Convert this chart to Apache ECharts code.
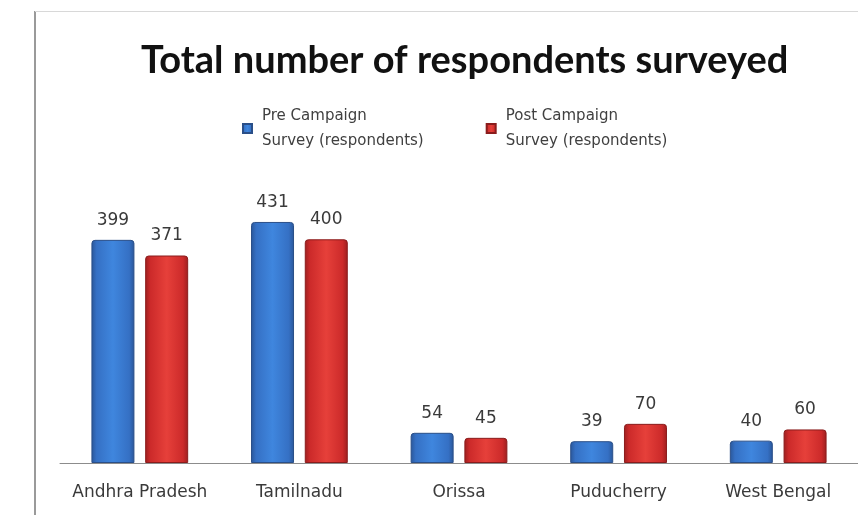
<!DOCTYPE html>
<html>
<head>
<meta charset="utf-8">
<script src="https://cdn.jsdelivr.net/npm/echarts@6/dist/echarts.min.js"></script>
<style>
  html, body { margin: 0; padding: 0; background: #ffffff; }
  #chart { width: 858px; height: 515px; }
</style>
</head>
<body>
<div id="chart"></div>
<script>
// States surveyed and respondent counts per survey round
const states = ['Andhra Pradesh', 'Tamilnadu', 'Orissa', 'Puducherry', 'West Bengal'];
const preCampaign = [399, 431, 54, 39, 40];
const postCampaign = [371, 400, 45, 70, 60];
const seriesNames = ['Pre Campaign\nSurvey (respondents)', 'Post Campaign\nSurvey (respondents)'];

const labelFont = 'DejaVu Sans';

// Bevelled bar fill: darker edges, brighter middle
function bevel(edge, mid, light) {
  return {
    type: 'linear', x: 0, y: 0, x2: 1, y2: 0,
    colorStops: [
      { offset: 0, color: edge },
      { offset: 0.12, color: mid },
      { offset: 0.5, color: light },
      { offset: 0.88, color: mid },
      { offset: 1, color: edge }
    ]
  };
}

const chart = echarts.init(document.getElementById('chart'), null, { renderer: 'canvas' });

chart.setOption({
  backgroundColor: '#ffffff',
  animation: false,
  title: {
    text: 'Total number of respondents surveyed',
    left: 136,
    top: 37,
    textStyle: { fontFamily: 'Lato', fontWeight: 'bold', fontSize: 38, color: '#111111' }
  },
  legend: {
    top: 86,
    left: 237,
    itemGap: 62,
    itemWidth: 9,
    itemHeight: 9,
    icon: 'rect',
    selectedMode: false,
    data: seriesNames,
    textStyle: {
      fontFamily: labelFont,
      fontSize: 15,
      color: '#404040',
      lineHeight: 25,
      padding: [25, 0, 0, 5]
    }
  },
  grid: { left: 60, width: 808, top: 161, bottom: 52, containLabel: false },
  xAxis: {
    type: 'category',
    data: states,
    axisLine: { show: true, lineStyle: { color: '#8c8c8c', width: 1 } },
    axisTick: { show: false },
    axisLabel: { interval: 0, margin: 21, fontFamily: labelFont, fontSize: 17, color: '#3a3a3a' }
  },
  yAxis: {
    type: 'value',
    min: 0,
    max: 540,
    show: false,
    splitLine: { show: false }
  },
  graphic: [
    { type: 'rect', shape: { x: 34, y: 11, width: 2, height: 504 }, style: { fill: '#9a9a9a' }, silent: true },
    { type: 'rect', shape: { x: 35, y: 11, width: 823, height: 1 }, style: { fill: '#d8d8d8' }, silent: true }
  ],
  series: [
    {
      name: seriesNames[0],
      type: 'bar',
      data: preCampaign,
      barWidth: 43,
      barGap: '25%',
      itemStyle: {
        color: bevel('#2a5698', '#3570c4', '#3f86de'),
        borderColor: '#2a4f88',
        borderWidth: 1,
        borderRadius: [3, 3, 0, 0]
      },
      label: {
        show: true, position: 'top', distance: 11,
        fontFamily: labelFont, fontSize: 17, color: '#3a3a3a'
      }
    },
    {
      name: seriesNames[1],
      type: 'bar',
      data: postCampaign,
      barWidth: 43,
      itemStyle: {
        color: bevel('#9c1f1f', '#cc2a2a', '#e6403a'),
        borderColor: '#8a1c1c',
        borderWidth: 1,
        borderRadius: [3, 3, 0, 0]
      },
      label: {
        show: true, position: 'top', distance: 11,
        fontFamily: labelFont, fontSize: 17, color: '#3a3a3a'
      }
    }
  ]
});
</script>
</body>
</html>
